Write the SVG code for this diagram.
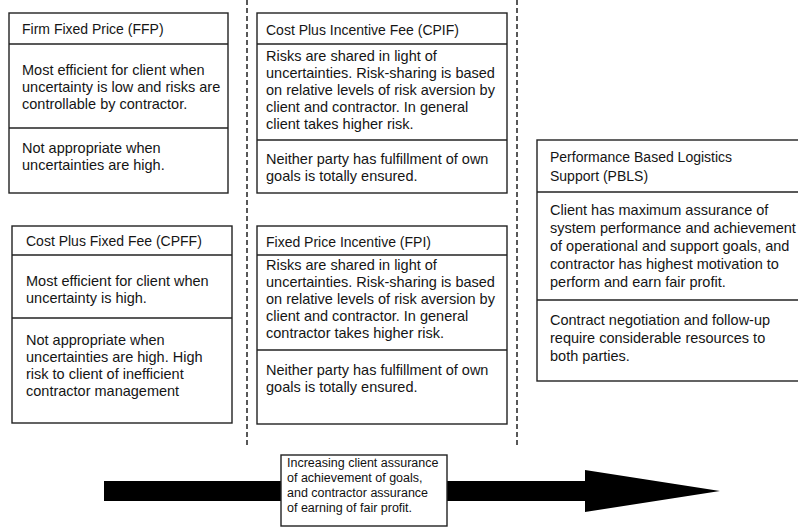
<svg xmlns="http://www.w3.org/2000/svg" width="798" height="527" viewBox="0 0 798 527">
<style>
.box{fill:#fff;stroke:#222;stroke-width:1.4}
.dv{stroke:#222;stroke-width:1.6}
.t{font-family:"Liberation Sans",Arial,sans-serif;font-size:14.5px;fill:#151515}
.h{font-size:14px}
.s{font-family:"Liberation Sans",Arial,sans-serif;font-size:12.5px;fill:#111}
.dash{stroke:#222;stroke-width:1.5;stroke-dasharray:5 3;fill:none}
</style>
<rect width="798" height="527" fill="#fff"/>
<g id="separators">
<line class="dash" x1="247" y1="0" x2="247" y2="445"/>
<line class="dash" x1="517" y1="0" x2="517" y2="445"/>
</g>
<g id="ffp">
<rect class="box" x="9" y="13" width="219" height="180"/>
<line class="dv" x1="9" y1="44" x2="228" y2="44"/>
<line class="dv" x1="9" y1="128" x2="228" y2="128"/>
<text class="t h" x="22" y="34">Firm Fixed Price (FFP)</text>
<text class="t" x="22" y="75">Most efficient for client when</text>
<text class="t" x="22" y="92">uncertainty is low and risks are</text>
<text class="t" x="22" y="109">controllable by contractor.</text>
<text class="t" x="22" y="153">Not appropriate when</text>
<text class="t" x="22" y="170">uncertainties are high.</text>
</g>
<g id="cpif">
<rect class="box" x="257" y="13" width="250" height="180"/>
<line class="dv" x1="257" y1="44" x2="507" y2="44"/>
<line class="dv" x1="257" y1="140" x2="507" y2="140"/>
<text class="t h" x="266" y="35">Cost Plus Incentive Fee (CPIF)</text>
<text class="t" x="266" y="61">Risks are shared in light of</text>
<text class="t" x="266" y="78">uncertainties. Risk-sharing is based</text>
<text class="t" x="266" y="95">on relative levels of risk aversion by</text>
<text class="t" x="266" y="112">client and contractor. In general</text>
<text class="t" x="266" y="129">client takes higher risk.</text>
<text class="t" x="266" y="164">Neither party has fulfillment of own</text>
<text class="t" x="266" y="181">goals is totally ensured.</text>
</g>
<g id="cpff">
<rect class="box" x="12" y="226" width="220" height="197"/>
<line class="dv" x1="12" y1="255" x2="232" y2="255"/>
<line class="dv" x1="12" y1="318" x2="232" y2="318"/>
<text class="t h" x="26" y="246">Cost Plus Fixed Fee (CPFF)</text>
<text class="t" x="26" y="286">Most efficient for client when</text>
<text class="t" x="26" y="303">uncertainty is high.</text>
<text class="t" x="26" y="345">Not appropriate when</text>
<text class="t" x="26" y="362">uncertainties are high. High</text>
<text class="t" x="26" y="379">risk to client of inefficient</text>
<text class="t" x="26" y="396">contractor management</text>
</g>
<g id="fpi">
<rect class="box" x="257" y="226" width="250" height="198"/>
<line class="dv" x1="257" y1="255" x2="507" y2="255"/>
<line class="dv" x1="257" y1="350" x2="507" y2="350"/>
<text class="t h" x="266" y="247">Fixed Price Incentive (FPI)</text>
<text class="t" x="266" y="270">Risks are shared in light of</text>
<text class="t" x="266" y="287">uncertainties. Risk-sharing is based</text>
<text class="t" x="266" y="304">on relative levels of risk aversion by</text>
<text class="t" x="266" y="321">client and contractor. In general</text>
<text class="t" x="266" y="338">contractor takes higher risk.</text>
<text class="t" x="266" y="375">Neither party has fulfillment of own</text>
<text class="t" x="266" y="392">goals is totally ensured.</text>
</g>
<g id="pbls">
<rect class="box" x="537" y="140" width="262" height="241"/>
<line class="dv" x1="537" y1="192" x2="798" y2="192"/>
<line class="dv" x1="537" y1="300" x2="798" y2="300"/>
<text class="t h" x="550" y="162">Performance Based Logistics</text>
<text class="t h" x="550" y="181">Support (PBLS)</text>
<text class="t" x="550" y="215">Client has maximum assurance of</text>
<text class="t" x="550" y="233">system performance and achievement</text>
<text class="t" x="550" y="251">of operational and support goals, and</text>
<text class="t" x="550" y="269">contractor has highest motivation to</text>
<text class="t" x="550" y="287">perform and earn fair profit.</text>
<text class="t" x="550" y="325">Contract negotiation and follow-up</text>
<text class="t" x="550" y="343">require considerable resources to</text>
<text class="t" x="550" y="361">both parties.</text>
</g>
<g id="connectors">
<polygon points="104,481 585,481 585,470 720,491 585,512 585,501 104,501" fill="#000"/>
</g>
<g id="assurance-label">
<rect class="box" x="281" y="455" width="166" height="71"/>
<text class="s" x="287" y="467">Increasing client assurance</text>
<text class="s" x="287" y="482">of achievement of goals,</text>
<text class="s" x="287" y="497">and contractor assurance</text>
<text class="s" x="287" y="512">of earning of fair profit.</text>
</g>
</svg>
